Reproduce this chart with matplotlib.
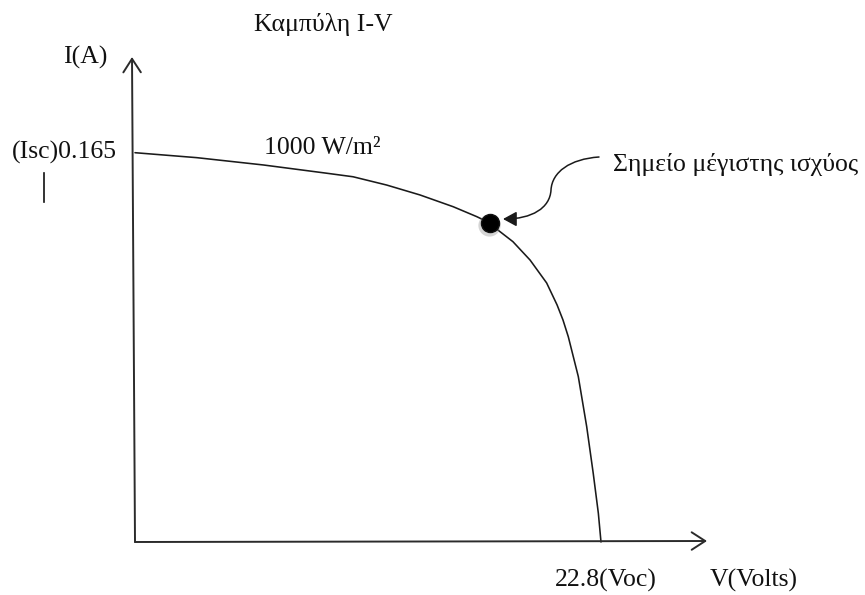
import matplotlib
matplotlib.use("Agg")
import matplotlib.pyplot as plt
from matplotlib.path import Path
from matplotlib.patches import FancyArrowPatch

plt.rcParams['font.family'] = ['Liberation Serif', 'DejaVu Serif']

# I-V curve (V, A)
voltage = [0.0, 3.02, 6.28, 9.38, 10.67, 12.31, 13.94, 15.57, 16.72, 17.37,
           17.76, 18.49, 19.33, 20.14, 20.65, 20.94, 21.20, 21.69, 22.10,
           22.42, 22.67, 22.8]
current = [0.165, 0.1629, 0.1598, 0.1563, 0.1548, 0.1513, 0.1471, 0.1421,
           0.1379, 0.1352, 0.1322, 0.1273, 0.1195, 0.1098, 0.1005, 0.0941,
           0.0870, 0.0701, 0.0489, 0.0291, 0.0122, 0.0]
isc = 0.165
voc = 22.8
v_mpp, i_mpp = 17.37, 0.1352

title = "Καμπύλη I-V"
irr_label = "1000 W/m²"
mpp_label = "Σημείο μέγιστης ισχύος"

# layout: origin sits at pixel (135, 542), Voc at x=601, Isc at y=152.7
W, H = 865, 595
x0, y0 = 135, 542
sx = voc / (601 - x0)
sy = isc / (y0 - 152.7)


def px(x, y):
    return (x - x0) * sx, (y0 - y) * sy


fig = plt.figure(figsize=(W / 100, H / 100), dpi=100)
ax = fig.add_axes([0, 0, 1, 1])
ax.set_xlim(px(0, 0)[0], px(W, 0)[0])
ax.set_ylim(px(0, H)[1], px(0, 0)[1])
ax.axis('off')

axc = '#2b2b2b'
# axes as arrows
ax.annotate('', xy=px(132, 57), xytext=(0, 0),
            arrowprops=dict(arrowstyle='->,head_length=0.65,head_width=0.42',
                            color=axc, lw=1.4, mutation_scale=15,
                            shrinkA=0, shrinkB=0))
ax.annotate('', xy=px(707, 541), xytext=(0, 0),
            arrowprops=dict(arrowstyle='->,head_length=0.65,head_width=0.42',
                            color=axc, lw=1.4, mutation_scale=15,
                            shrinkA=0, shrinkB=0))

# curve
ax.plot(voltage, current, color='#1a1a1a', lw=1.15,
        solid_capstyle='round', solid_joinstyle='round')

# maximum power point with a soft shadow
ax.plot([v_mpp - 0.05], [i_mpp - 0.0009], 'o', ms=16, color='#888888', alpha=0.35,
        mec='none')
ax.plot([v_mpp], [i_mpp], 'o', ms=13, color='black', mec='#111111')

# curved pointer to the MPP
verts = [px(599, 157), px(570, 159), px(552, 172), px(551, 190),
         px(550, 208), px(532, 219), px(503, 219)]
codes = [Path.MOVETO, Path.CURVE4, Path.CURVE4, Path.CURVE4,
         Path.CURVE4, Path.CURVE4, Path.CURVE4]
arrow = FancyArrowPatch(path=Path(verts, codes),
                        arrowstyle='-|>,head_length=0.55,head_width=0.3',
                        mutation_scale=15, color='#1a1a1a', lw=1.1)
ax.add_patch(arrow)

fs = 18.5
tc = '#111111'
ax.text(*px(323, 24), title, fontsize=fs, color=tc, ha='center', va='center')
ax.text(*px(85, 57), "I(A)", fontsize=fs, color=tc, ha='center', va='center')
ax.text(*px(117, 152), f"(Isc){isc}", fontsize=fs, color=tc, ha='right', va='center')
ax.text(*px(322, 148), irr_label, fontsize=fs, color=tc, ha='center', va='center')
ax.text(*px(613, 165), mpp_label, fontsize=fs, color=tc, ha='left', va='center')
ax.text(*px(606, 580), f"{voc}(Voc)", fontsize=fs, color=tc, ha='center', va='center')
ax.text(*px(754, 580), "V(Volts)", fontsize=fs, color=tc, ha='center', va='center')

# stray cursor bar under the Isc label
bx, by1 = px(44, 173)
_, by2 = px(44, 202)
ax.plot([bx, bx], [by1, by2], color='#111111', lw=1.2)

fig.savefig('out.png', dpi=100)
